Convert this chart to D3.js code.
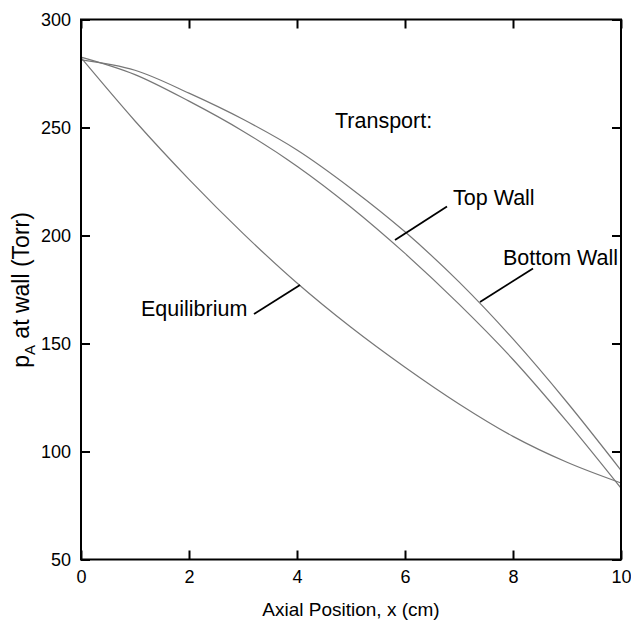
<!DOCTYPE html>
<html><head><meta charset="utf-8">
<script src="https://cdn.jsdelivr.net/npm/d3@7"></script>
<style>body{margin:0;background:#fff}svg{display:block}text{font-family:"Liberation Sans",Arial,sans-serif;fill:#000}</style>
</head><body><svg id="c" width="631" height="624"></svg>
<script>
const xValues = [0,1,2,3,4,5,6,7,8,9,10];
const bottomWall = [281.3,276.5,265.9,253.8,239.6,221.8,201.7,178.5,152.1,122.8,91.3];
const topWall = [282.6,274.5,262.2,248.3,232.1,213.1,191.7,168.2,142.6,113.8,83.0];
const equilibrium = [282.3,253.0,226.0,201.0,178.0,157.5,139.0,122.0,107.0,95.0,85.4];
const xTicks = [0,2,4,6,8,10];
const yTicks = [50,100,150,200,250,300];

const svg = d3.select("#c");
const L=81,R=621,T=19.5,B=559.5;
const x = d3.scaleLinear().domain([0,10]).range([L,R]);
const y = d3.scaleLinear().domain([50,300]).range([B,T]);

const line = d3.line().x((d,i)=>x(xValues[i])).y(d=>y(d)).curve(d3.curveMonotoneX);
[bottomWall, topWall, equilibrium].forEach(s=>{
  svg.append("path").attr("d",line(s)).attr("fill","none").attr("stroke","#777").attr("stroke-width",1.2);
});

// axes
const tl=9;
const gB = svg.append("g").attr("transform",`translate(0,${B})`).call(d3.axisBottom(x).tickValues(xTicks).tickSize(-tl).tickPadding(11).tickFormat(d3.format("d")));
const gT = svg.append("g").attr("transform",`translate(0,${T})`).call(d3.axisTop(x).tickValues(xTicks).tickSize(-tl).tickFormat(""));
const gL = svg.append("g").attr("transform",`translate(${L},0)`).call(d3.axisLeft(y).tickValues(yTicks).tickSize(-tl).tickPadding(10).tickFormat(d3.format("d")));
const gR = svg.append("g").attr("transform",`translate(${R},0)`).call(d3.axisRight(y).tickValues(yTicks).tickSize(-tl).tickFormat(""));
[gB,gT,gL,gR].forEach(g=>{
  g.select(".domain").remove();
  g.selectAll(".tick line").attr("stroke","#000").attr("stroke-width",2);
  g.selectAll(".tick text").style("font-size","18px").style("font-family",'"Liberation Sans",Arial,sans-serif').attr("fill","#000");
});
svg.append("rect").attr("x",L).attr("y",T).attr("width",R-L).attr("height",B-T).attr("fill","none").attr("stroke","#000").attr("stroke-width",2);

// labels
svg.append("text").attr("x",351).attr("y",616).attr("text-anchor","middle").style("font-size","19px").text("Axial Position, x (cm)");
const yl = svg.append("text").attr("transform",`translate(29,${290}) rotate(-90)`).attr("text-anchor","middle").style("font-size","23px");
yl.append("tspan").text("p");
yl.append("tspan").attr("dy",6).style("font-size","15px").text("A");
yl.append("tspan").attr("dy",-6).text(" at wall (Torr)");

svg.append("text").attr("x",335).attr("y",128).style("font-size","21.5px").text("Transport:");
svg.append("text").attr("x",453).attr("y",205).style("font-size","21.5px").text("Top Wall");
svg.append("text").attr("x",503).attr("y",265).style("font-size","21.5px").text("Bottom Wall");
svg.append("text").attr("x",141).attr("y",316).style("font-size","21.5px").text("Equilibrium");

const pointers = [[447,206.5,395,240],[533,268.5,480,302],[254,314,300,285]];
pointers.forEach(p=>svg.append("line").attr("x1",p[0]).attr("y1",p[1]).attr("x2",p[2]).attr("y2",p[3]).attr("stroke","#000").attr("stroke-width",1.8));
</script></body></html>
